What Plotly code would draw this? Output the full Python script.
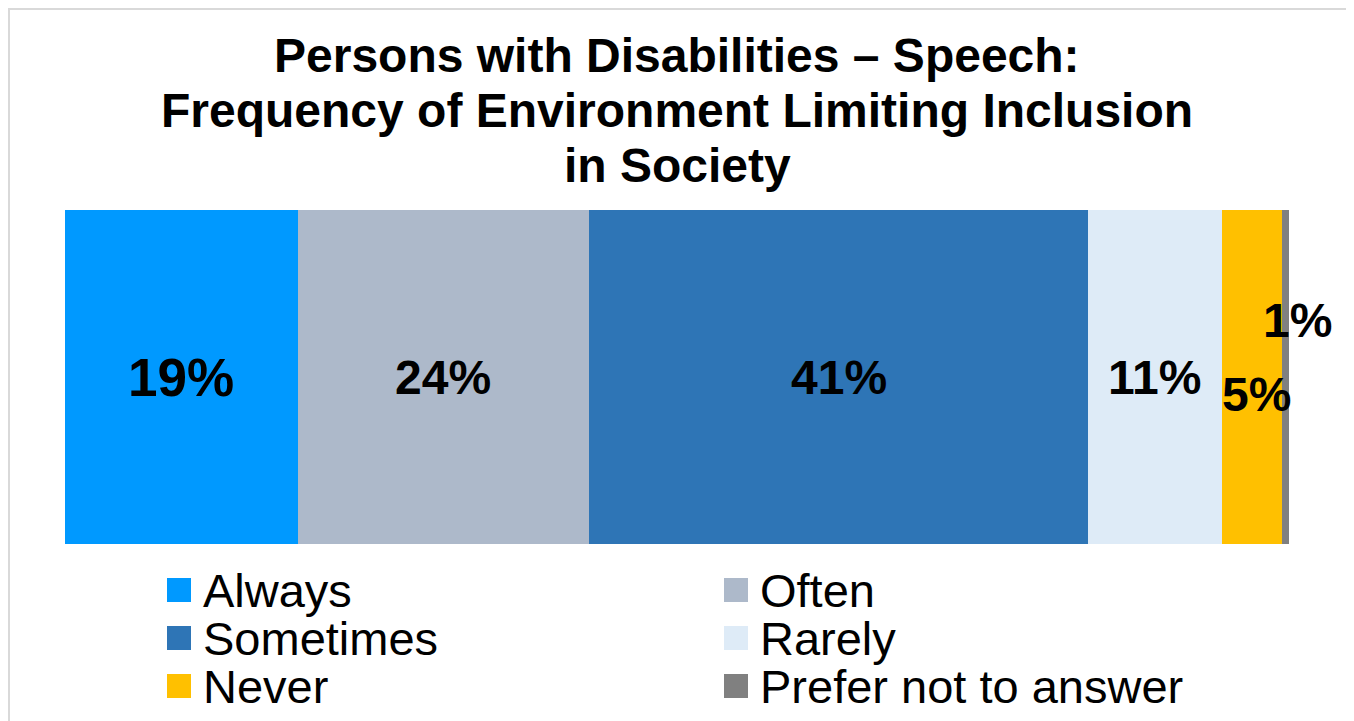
import plotly.graph_objects as go

# Доли ответов (в процентах)
categories = ["Always", "Often", "Sometimes", "Rarely", "Never", "Prefer not to answer"]
values = [19.0, 23.8, 40.8, 10.9, 4.9, 0.6]
colors = ["#0099FF", "#ADB9CA", "#2E75B6", "#DEEBF7", "#FFC000", "#808080"]
row_label = ["Speech"]
title_lines = [
    "Persons with Disabilities \u2013 Speech:",
    "Frequency of Environment Limiting Inclusion",
    "in Society",
]

# страница сдвигает фигуру на 8px (отступ body), поэтому всё считаем со сдвигом
OFF = 8
W_PX, H_PX = 1354 - OFF, 721 - OFF
L, R, T, B = 65 - OFF, 1354 - 1289, 210 - OFF, 721 - 544
PW, PH = W_PX - L - R, H_PX - T - B


def px_x(px):
    return (px - OFF - L) / PW


def px_y(py):
    return (T + PH - (py - OFF)) / PH


FONT = "Arial, Liberation Sans, sans-serif"

fig = go.Figure()
for name, v, c in zip(categories, values, colors):
    fig.add_trace(
        go.Bar(
            x=[v],
            y=row_label,
            orientation="h",
            name=name,
            marker=dict(color=c, line=dict(width=0)),
            hoverinfo="name+x",
        )
    )

# подписи значений
shifts = [(0, 0), (0, 0), (0, 0), (0, 0), (5, -17), (12, 57)]
sizes = [53, 48, 48, 48, 48, 48]
start = 0
for v, (dx, dy), fs in zip(values, shifts, sizes):
    fig.add_annotation(
        x=start + v / 2,
        y=row_label[0],
        text=f"<b>{round(v)}%</b>",
        showarrow=False,
        xshift=dx,
        yshift=dy,
        font=dict(family=FONT, size=fs, color="black"),
    )
    start += v

# заголовок построчно
for i, line in enumerate(title_lines):
    fig.add_annotation(
        xref="paper",
        yref="paper",
        x=0.5,
        y=px_y(55 + 55 * i),
        text=f"<b>{line}</b>",
        showarrow=False,
        xanchor="center",
        yanchor="middle",
        font=dict(family=FONT, size=48, color="black"),
    )

# легенда в две колонки
col_x = [167, 724]
row_y = [590, 638, 686]
for i, (name, c) in enumerate(zip(categories, colors)):
    cx = col_x[i % 2]
    cy = row_y[i // 2]
    fig.add_shape(
        type="rect",
        xref="paper",
        yref="paper",
        x0=px_x(cx),
        x1=px_x(cx + 24),
        y0=px_y(cy - 12),
        y1=px_y(cy + 12),
        fillcolor=c,
        line=dict(width=0),
    )
    fig.add_annotation(
        xref="paper",
        yref="paper",
        x=px_x(cx + 34),
        y=px_y(cy),
        text=name,
        showarrow=False,
        xanchor="left",
        yanchor="middle",
        font=dict(family=FONT, size=47, color="black"),
    )

# рамка вокруг диаграммы
fig.add_shape(
    type="rect",
    xref="paper",
    yref="paper",
    x0=px_x(OFF + 1),
    x1=px_x(1350.5),
    y0=px_y(740),
    y1=px_y(OFF + 1),
    line=dict(color="#D9D9D9", width=2),
    fillcolor="rgba(0,0,0,0)",
)

fig.update_layout(
    width=W_PX,
    height=H_PX,
    barmode="stack",
    bargap=0,
    showlegend=False,
    margin=dict(l=L, r=R, t=T, b=B),
    paper_bgcolor="white",
    plot_bgcolor="white",
    font=dict(family=FONT, color="black"),
)
fig.update_xaxes(range=[0, sum(values)], visible=False)
fig.update_yaxes(range=[-0.5, 0.5], visible=False)

fig.write_html("out.html")
